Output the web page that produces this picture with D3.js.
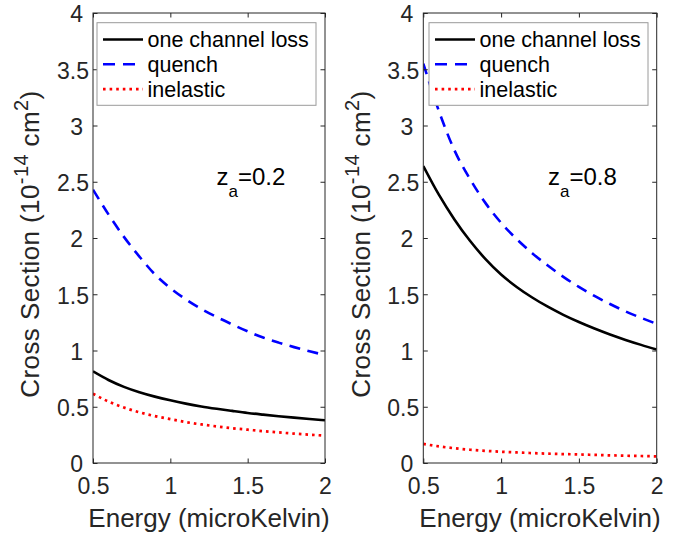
<!DOCTYPE html>
<html>
<head>
<meta charset="utf-8">
<script src="https://cdn.jsdelivr.net/npm/d3@7"></script>
<style>
  body { margin: 0; background: #fff; }
  svg { font-family: "Liberation Sans", Arial, Helvetica, sans-serif; }
</style>
</head>
<body>
<div id="chart"></div>
<script>
// values, energy in microKelvin, cross section in 1e-14 cm^2
const energy = [0.5, 0.6, 0.7, 0.8, 0.9, 1.0, 1.1, 1.2, 1.3, 1.4, 1.5, 1.6, 1.7, 1.8, 1.9, 2.0];

const lossZa02      = [0.815, 0.738, 0.677, 0.629, 0.59, 0.557, 0.528, 0.503, 0.482, 0.463, 0.445, 0.43, 0.416, 0.403, 0.391, 0.38];
const quenchZa02    = [2.43, 2.21, 2.01, 1.835, 1.677, 1.555, 1.455, 1.37, 1.297, 1.232, 1.17, 1.115, 1.07, 1.03, 0.993, 0.96];
const inelasticZa02 = [0.615, 0.546, 0.493, 0.451, 0.417, 0.39, 0.364, 0.343, 0.325, 0.309, 0.296, 0.283, 0.272, 0.261, 0.252, 0.243];

const lossZa08      = [2.64, 2.385, 2.165, 1.975, 1.812, 1.675, 1.565, 1.471, 1.389, 1.317, 1.253, 1.195, 1.142, 1.094, 1.05, 1.009];
const quenchZa08    = [3.55, 3.13, 2.78, 2.525, 2.31, 2.135, 1.99, 1.865, 1.755, 1.655, 1.565, 1.485, 1.413, 1.347, 1.29, 1.237];
const inelasticZa08 = [0.17, 0.148, 0.131, 0.118, 0.108, 0.1, 0.094, 0.088, 0.083, 0.079, 0.076, 0.072, 0.068, 0.065, 0.062, 0.059];

const seriesNames = ["one channel loss", "quench", "inelastic"];
const xTicks = [0.5, 1, 1.5, 2];
const yTicks = [0, 0.5, 1, 1.5, 2, 2.5, 3, 3.5, 4];
const zaLabels = ["0.2", "0.8"];

const styles = [
    { color: "#000000", dash: null, width: 2.6 },
    { color: "#0000ff", dash: "11,7.5", width: 2.6 },
    { color: "#ff0000", dash: "2.6,4", width: 2.7 }
];

const panels = [
    { left: 93, right: 325, series: [lossZa02, quenchZa02, inelasticZa02], za: zaLabels[0],
      legendX: 97, noteX: 216.5, ylabX: 39 },
    { left: 423.3, right: 656.7, series: [lossZa08, quenchZa08, inelasticZa08], za: zaLabels[1],
      legendX: 429, noteX: 548, ylabX: 370 }
];

const plotTop = 13, plotBottom = 463;
const axisColor = "#262626";

const svg = d3.select("#chart")
    .append("svg")
    .attr("width", 690)
    .attr("height", 539);

panels.forEach(function(p, pi) {
    var x = d3.scaleLinear().domain([0.5, 2]).range([p.left, p.right]);
    var y = d3.scaleLinear().domain([0, 4]).range([plotBottom, plotTop]);
    var g = svg.append("g");

    // clip for the curves
    g.append("clipPath").attr("id", "clip" + pi)
        .append("rect")
        .attr("x", p.left).attr("y", plotTop)
        .attr("width", p.right - p.left).attr("height", plotBottom - plotTop);

    var line = d3.line()
        .x(function(d) { return x(d[0]); })
        .y(function(d) { return y(d[1]); })
        .curve(d3.curveMonotoneX);

    p.series.forEach(function(vals, si) {
        var st = styles[si];
        g.append("path")
            .datum(energy.map(function(e, i) { return [e, vals[i]]; }))
            .attr("clip-path", "url(#clip" + pi + ")")
            .attr("fill", "none")
            .attr("stroke", st.color)
            .attr("stroke-width", st.width)
            .attr("stroke-dasharray", st.dash)
            .attr("d", line);
    });

    // axes, ticks pointing inward like matlab
    var bottomAxis = g.append("g")
        .attr("transform", "translate(0," + plotBottom + ")")
        .call(d3.axisBottom(x).tickValues(xTicks).tickFormat(function(d) { return String(d); })
            .tickSizeInner(-4.5).tickSizeOuter(0).tickPadding(15));
    g.append("g")
        .attr("transform", "translate(0," + plotTop + ")")
        .call(d3.axisTop(x).tickValues(xTicks).tickFormat("").tickSizeInner(-4.5).tickSizeOuter(0));
    var leftAxis = g.append("g")
        .attr("transform", "translate(" + p.left + ",0)")
        .call(d3.axisLeft(y).tickValues(yTicks).tickFormat(function(d) { return String(d); })
            .tickSizeInner(-4.5).tickSizeOuter(0).tickPadding(4));
    g.append("g")
        .attr("transform", "translate(" + p.right + ",0)")
        .call(d3.axisRight(y).tickValues(yTicks).tickFormat("").tickSizeInner(-4.5).tickSizeOuter(0));

    g.selectAll(".domain").remove();
    g.selectAll(".tick line").attr("stroke", axisColor);
    g.selectAll(".tick text")
        .attr("fill", axisColor)
        .style("font-size", "23px")
        .style("font-family", "'Liberation Sans', Arial, sans-serif");
    bottomAxis.selectAll(".tick text").attr("dy", "0.71em");
    // integer labels sit a bit further left in the original
    leftAxis.selectAll(".tick text")
        .attr("dy", "0.38em")
        .attr("dx", function(d) { return Number.isInteger(d) ? -6 : 0; });

    g.append("rect")
        .attr("x", p.left).attr("y", plotTop)
        .attr("width", p.right - p.left).attr("height", plotBottom - plotTop)
        .attr("fill", "none")
        .attr("stroke", axisColor)
        .attr("stroke-width", 1);

    // legend
    var lg = g.append("g");
    lg.append("rect")
        .attr("x", p.legendX).attr("y", 22.7)
        .attr("width", 219).attr("height", 82.6)
        .attr("fill", "#fff")
        .attr("stroke", "#9a9a9a")
        .attr("stroke-width", 1);
    seriesNames.forEach(function(name, si) {
        var cy = 39.5 + si * 24.8;
        var st = styles[si];
        lg.append("line")
            .attr("x1", p.legendX + 6).attr("x2", p.legendX + 46)
            .attr("y1", cy).attr("y2", cy)
            .attr("stroke", st.color)
            .attr("stroke-width", st.width)
            .attr("stroke-dasharray", si === 1 ? "12,8" : st.dash);
        lg.append("text")
            .attr("x", p.legendX + 50.5).attr("y", cy + 7.8)
            .attr("fill", "#000")
            .style("font-size", "21.5px")
            .text(name);
    });

    // z_a annotation
    var note = g.append("text")
        .attr("x", p.noteX).attr("y", 185)
        .attr("fill", "#000")
        .style("font-size", "24px");
    note.append("tspan").text("z");
    note.append("tspan").attr("dy", 12).style("font-size", "17px").text("a");
    note.append("tspan").attr("dy", -12).text("=" + p.za);

    // axis titles
    g.append("text")
        .attr("x", (p.left + p.right) / 2).attr("y", 527)
        .attr("text-anchor", "middle")
        .attr("fill", axisColor)
        .style("font-size", "26px")
        .text("Energy (microKelvin)");

    var yl = g.append("text")
        .attr("transform", "translate(" + p.ylabX + "," + ((plotTop + plotBottom) / 2 + 6) + ") rotate(-90)")
        .attr("text-anchor", "middle")
        .attr("fill", axisColor)
        .style("font-size", "26px")
        .style("letter-spacing", "0.4px");
    yl.append("tspan").text("Cross Section (10");
    yl.append("tspan").attr("dy", -11).style("font-size", "20px").text("-14");
    yl.append("tspan").attr("dy", 11).text(" cm");
    yl.append("tspan").attr("dy", -11).style("font-size", "20px").text("2");
    yl.append("tspan").attr("dy", 11).text(")");
});
</script>
</body>
</html>
